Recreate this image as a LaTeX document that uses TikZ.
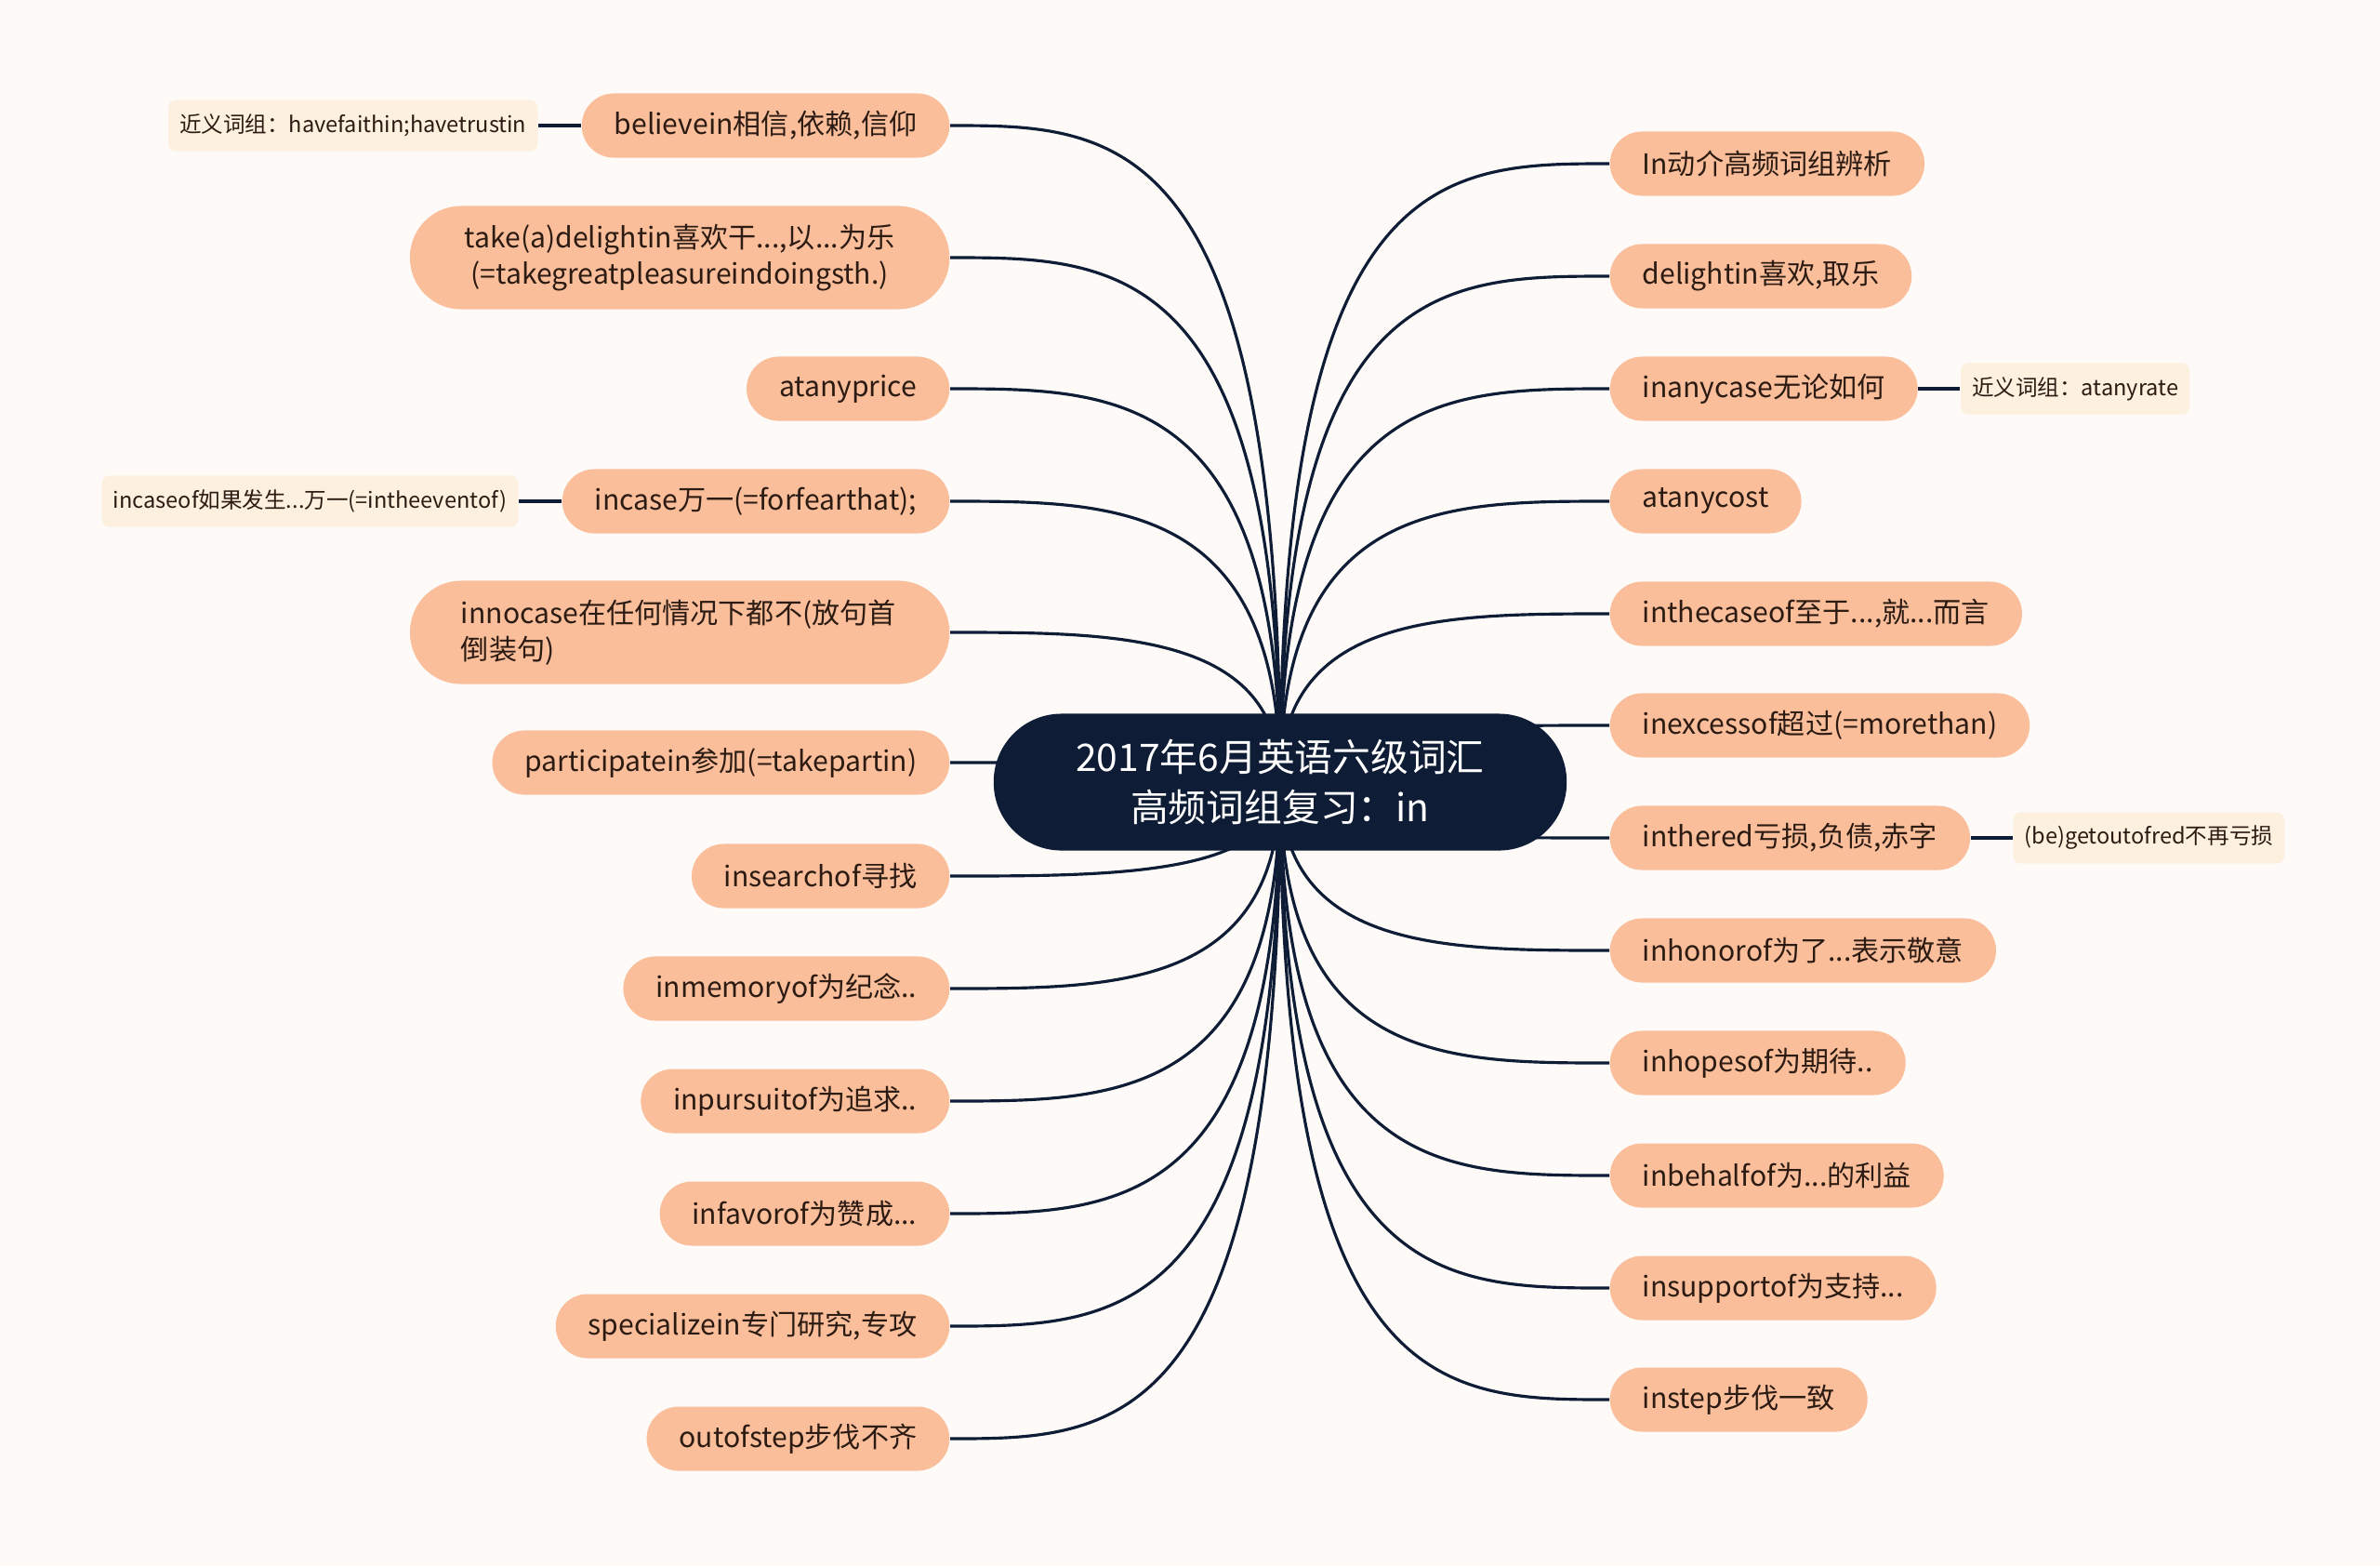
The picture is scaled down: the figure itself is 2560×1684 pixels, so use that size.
\documentclass[tikz,border=0pt]{standalone}
\usepackage{fontspec}
\setmainfont{Noto Sans CJK SC}
\usetikzlibrary{calc,positioning,backgrounds}

\definecolor{bgcol}{HTML}{FDFAF8}
\definecolor{navy}{HTML}{0E1C35}
\definecolor{peach}{HTML}{FABE9B}
\definecolor{cream}{HTML}{FDF0DF}
\definecolor{ink}{HTML}{2B1B12}

\tikzset{
	rootbox/.style={fill=navy, text=white, rounded corners=0.73cm, minimum width=6.16cm, minimum height=1.47cm, align=center, font=\fontsize{11.6}{15.3}\selectfont},
	mainbox/.style={fill=peach, text=ink, rounded corners=0.345cm, minimum height=0.69cm, inner xsep=0.35cm, inner ysep=0.1cm, font=\fontsize{8.57}{11.1}\selectfont},
	tallbox/.style={mainbox, rounded corners=0.55cm, minimum height=1.11cm, minimum width=5.8cm, inner xsep=0.55cm},
	subbox/.style={fill=cream, text=ink, rounded corners=0.08cm, minimum height=0.55cm, inner xsep=0.12cm, font=\fontsize{6.7}{8.5}\selectfont},
	branch/.style={draw=navy, line width=0.9pt},
	twig/.style={draw=navy, line width=1.1pt},
}

\begin{document}
\begin{tikzpicture}[x=0.01cm, y=-0.01cm]
	\useasboundingbox (0,0) rectangle (2560,1684);
	\node[rootbox] (root) at (1377,841) {2017年6月英语六级词汇\\高频词组复习：in};
	% left side
	\node[mainbox, anchor=east] (l1) at (1022,135) {believein相信,依赖,信仰};
	\node[tallbox, anchor=east, align=center] (l2) at (1022,277) {take(a)delightin喜欢干...,以...为乐\\(=takegreatpleasureindoingsth.)};
	\node[mainbox, anchor=east] (l3) at (1022,418) {atanyprice};
	\node[mainbox, anchor=east] (l4) at (1022,539) {incase万一(=forfearthat);};
	\node[tallbox, anchor=east, align=left, text width=4.7cm] (l5) at (1022,680) {innocase在任何情况下都不(放句首\\倒装句)};
	\node[mainbox, anchor=east] (l6) at (1022,820) {participatein参加(=takepartin)};
	\node[mainbox, anchor=east] (l7) at (1022,942) {insearchof寻找};
	\node[mainbox, anchor=east] (l8) at (1022,1063) {inmemoryof为纪念..};
	\node[mainbox, anchor=east] (l9) at (1022,1184) {inpursuitof为追求..};
	\node[mainbox, anchor=east] (l10) at (1022,1305) {infavorof为赞成...};
	\node[mainbox, anchor=east] (l11) at (1022,1426) {specializein专门研究,专攻};
	\node[mainbox, anchor=east] (l12) at (1022,1547) {outofstep步伐不齐};
	% right side
	\node[mainbox, anchor=west] (r1) at (1731,176) {In动介高频词组辨析};
	\node[mainbox, anchor=west] (r2) at (1731,297) {delightin喜欢,取乐};
	\node[mainbox, anchor=west] (r3) at (1731,418) {inanycase无论如何};
	\node[mainbox, anchor=west] (r4) at (1731,539) {atanycost};
	\node[mainbox, anchor=west] (r5) at (1731,660) {inthecaseof至于...,就...而言};
	\node[mainbox, anchor=west] (r6) at (1731,780) {inexcessof超过(=morethan)};
	\node[mainbox, anchor=west] (r7) at (1731,901) {inthered亏损,负债,赤字};
	\node[mainbox, anchor=west] (r8) at (1731,1022) {inhonorof为了...表示敬意};
	\node[mainbox, anchor=west] (r9) at (1731,1143) {inhopesof为期待..};
	\node[mainbox, anchor=west] (r10) at (1731,1264) {inbehalfof为...的利益};
	\node[mainbox, anchor=west] (r11) at (1731,1385) {insupportof为支持...};
	\node[mainbox, anchor=west] (r12) at (1731,1505) {instep步伐一致};
	% synonyms
	\node[subbox, left=0.46cm of l1] (l1s) {近义词组：havefaithin;havetrustin};
	\node[subbox, left=0.46cm of l4] (l4s) {incaseof如果发生...万一(=intheeventof)};
	\node[subbox, right=0.45cm of r3] (r3s) {近义词组：atanyrate};
	\node[subbox, right=0.45cm of r7] (r7s) {(be)getoutofred不再亏损};
	\draw[twig] (l1) -- (l1s);
	\draw[twig] (l4) -- (l4s);
	\draw[twig] (r3) -- (r3s);
	\draw[twig] (r7) -- (r7s);
	\begin{scope}[on background layer]
		\fill[bgcol] (0,0) rectangle (2560,1684);
		\foreach \i in {1,...,12} {
			\draw[branch] (root.center) .. controls (root.center |- l\i.east) and ($(root.center |- l\i.east)!.5!(l\i.east)$) .. (l\i.east);
			\draw[branch] (root.center) .. controls (root.center |- r\i.west) and ($(root.center |- r\i.west)!.5!(r\i.west)$) .. (r\i.west);
		}
	\end{scope}
\end{tikzpicture}
\end{document}
